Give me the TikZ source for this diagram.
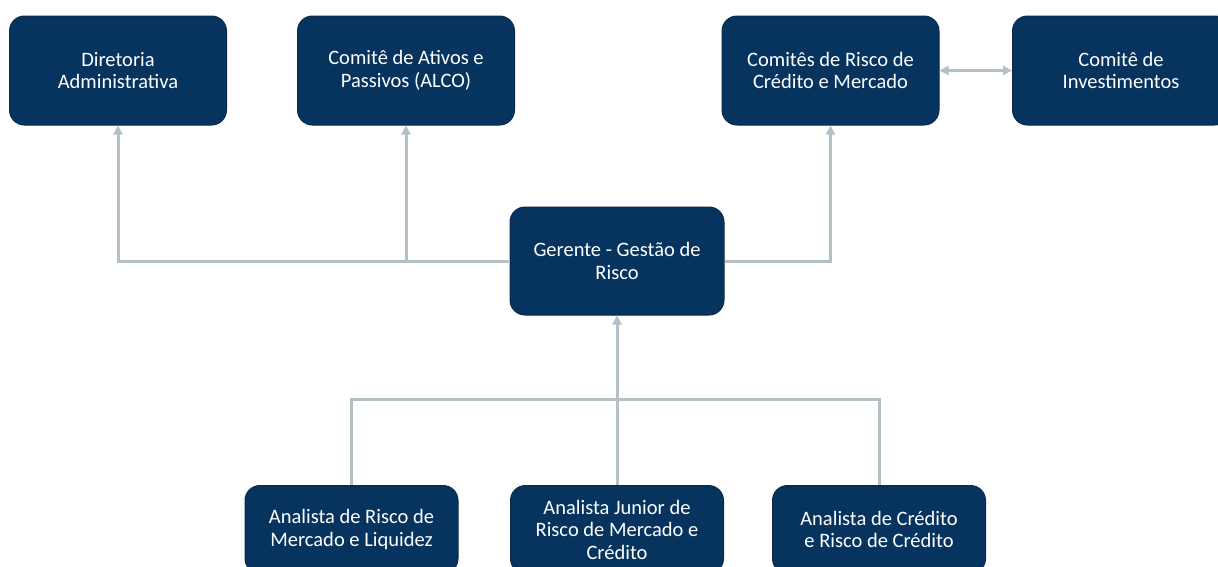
\documentclass[tikz,border=0pt]{standalone}
\usepackage{fontspec}
\setmainfont{Carlito}
\usetikzlibrary{arrows.meta}
\definecolor{boxfill}{HTML}{06345F}
\definecolor{boxedge}{HTML}{0B2A4A}
\definecolor{linec}{HTML}{B4C0C8}
\tikzset{
  box/.style={draw=boxedge, line width=1pt, fill=boxfill, rounded corners=15pt,
    minimum width=217pt, minimum height=109pt, align=center, text=white,
    font=\fontsize{20.5}{22.5}\selectfont, inner sep=2pt},
  lowbox/.style={box, minimum width=213pt, minimum height=88pt, anchor=north},
  conn/.style={draw=linec, line width=3pt},
  tip/.style={-{Triangle[length=9pt,width=9pt]}},
  dtip/.style={{Triangle[length=9pt,width=9pt]}-{Triangle[length=9pt,width=9pt]}}
}
\begin{document}
\begin{tikzpicture}[x=1pt,y=-1pt]
\useasboundingbox[fill=white] (0,0) rectangle (1218,566);
\node[box] (dir) at (118,70.5) {Diretoria\\Administrativa};
\node[box] (alco) at (406,70.5) {Comitê de Ativos e\\Passivos (ALCO)};
\node[box] (crm) at (830.5,70.5) {Comitês de Risco de\\Crédito e Mercado};
\node[box] (inv) at (1121,70.5) {Comitê de\\Investimentos};
\node[box, minimum width=214pt, minimum height=108pt] (ger) at (617,261) {Gerente - Gestão de\\Risco};
\node[lowbox] (an1) at (351.5,485) {Analista de Risco de\\Mercado e Liquidez};
\node[lowbox] (an2) at (617,485) {Analista Junior de\\Risco de Mercado e\\Crédito};
\node[lowbox] (an3) at (879,485) {Analista de Crédito\\e Risco de Crédito};
\coordinate (bus) at (617,399);
% upper connectors
\draw[conn,tip] (ger.west) -| (dir.south);
\draw[conn,tip] (alco.south |- ger.west) -- (alco.south);
\draw[conn,tip] (ger.east) -| (crm.south);
\draw[conn,dtip] (crm.east) -- (inv.west);
% lower connectors
\draw[conn] (an1.north) |- (bus) -| (an3.north);
\draw[conn,tip] (an2.north) -- (ger.south);
\end{tikzpicture}
\end{document}
